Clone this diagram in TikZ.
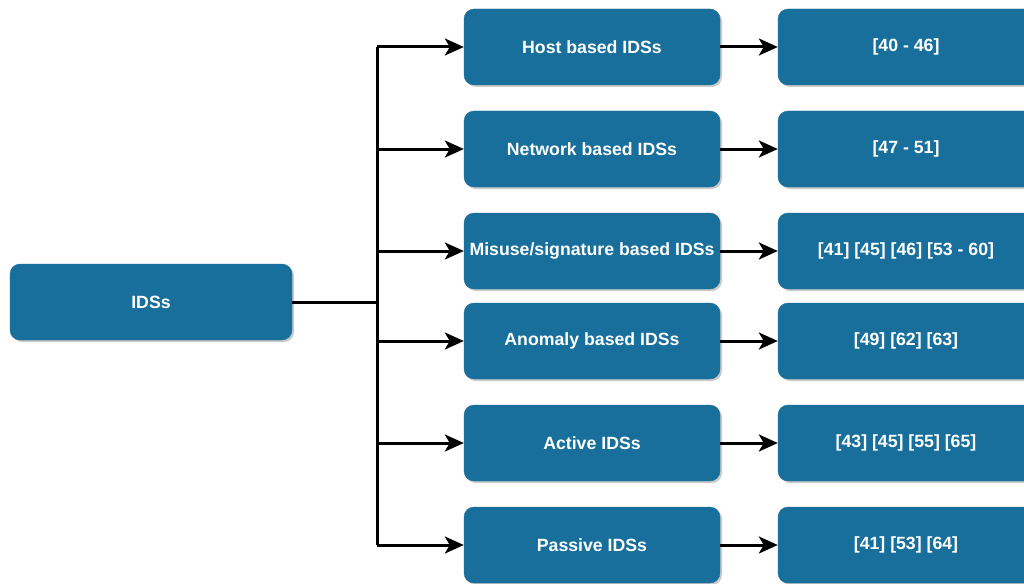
\documentclass[tikz,border=0pt]{standalone}
\usepackage{fontspec}
\setmainfont{Liberation Sans}
\usetikzlibrary{arrows.meta,shadows}
\definecolor{idsblue}{RGB}{24,111,156}
\tikzset{
	box/.style={draw=idsblue, fill=idsblue, rounded corners=10pt, minimum width=256pt, minimum height=76pt, inner sep=0pt, text=white, font=\fontsize{17.7}{20}\selectfont\bfseries, drop shadow={shadow xshift=2pt, shadow yshift=-2pt, opacity=0.35, fill=black!60}},
	link/.style={line width=3pt, -{Stealth[length=19pt,width=17pt,inset=5pt]}},
}

\begin{document}
\begin{tikzpicture}[x=1pt,y=-1pt]
	\useasboundingbox (0,0) rectangle (1024,583);
	\node[box, minimum width=282pt] (ids) at (151,302) {IDSs};
	\node[box] (host) at (592,47) {Host based IDSs};
	\node[box] (net) at (592,149) {Network based IDSs};
	\node[box] (mis) at (592,251) {Misuse/signature based IDSs};
	\node[box] (ano) at (592,341) {Anomaly based IDSs};
	\node[box] (act) at (592,443) {Active IDSs};
	\node[box] (pas) at (592,545) {Passive IDSs};
	\node[box] (rhost) at (906,47) {[40 - 46]};
	\node[box] (rnet) at (906,149) {[47 - 51]};
	\node[box] (rmis) at (906,251) {[41] [45] [46] [53 - 60]};
	\node[box] (rano) at (906,341) {[49] [62] [63]};
	\node[box] (ract) at (906,443) {[43] [45] [55] [65]};
	\node[box] (rpas) at (906,545) {[41] [53] [64]};
	\coordinate (trunk) at (377,302);
	\coordinate (top) at (377,47);
	\coordinate (bot) at (377,545);
	\draw[line width=3pt] (ids.east) -- (trunk);
	\draw[line width=3pt] (top) -- (bot);
	\draw[link] (top) -- (host);
	\draw[link] (377,149) -- (net);
	\draw[link] (377,251) -- (mis);
	\draw[link] (377,341) -- (ano);
	\draw[link] (377,443) -- (act);
	\draw[link] (bot) -- (pas);
	\draw[link] (host) -- (rhost);
	\draw[link] (net) -- (rnet);
	\draw[link] (mis) -- (rmis);
	\draw[link] (ano) -- (rano);
	\draw[link] (act) -- (ract);
	\draw[link] (pas) -- (rpas);
\end{tikzpicture}
\end{document}
